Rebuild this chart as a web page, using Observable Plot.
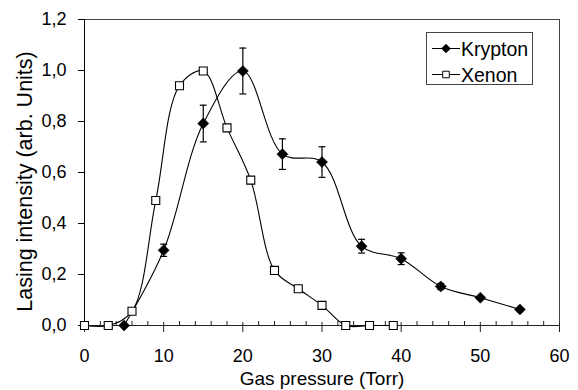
<!DOCTYPE html>
<html><head><meta charset="utf-8">
<script src="https://cdn.jsdelivr.net/npm/d3@7"></script>
<script src="https://cdn.jsdelivr.net/npm/@observablehq/plot@0.6"></script>
<style>
body{margin:0;background:#fff}
#chart{position:relative;width:578px;height:390px}
</style>
</head><body><div id="chart"></div>
<script>
// Data
const kryptonPressure = [5, 10, 15, 20, 25, 30, 35, 40, 45, 50, 55];
const kryptonIntensity = [0.0, 0.295, 0.792, 0.998, 0.672, 0.641, 0.311, 0.262, 0.153, 0.109, 0.063];
const kryptonError = [0, 0.024, 0.072, 0.09, 0.06, 0.06, 0.027, 0.023, 0.012, 0, 0];
const xenonPressure = [0, 3, 6, 9, 12, 15, 18, 21, 24, 27, 30, 33, 36, 39];
const xenonIntensity = [0, 0, 0.056, 0.49, 0.94, 0.998, 0.775, 0.57, 0.216, 0.144, 0.079, 0, 0, 0];
const xTicks = [0, 10, 20, 30, 40, 50, 60];
const xMinorTicks = [2, 4, 6, 8, 12, 14, 16, 18, 22, 24, 26, 28, 32, 34, 36, 38, 42, 44, 46, 48, 52, 54, 56, 58];
const yTicks = [0, 0.2, 0.4, 0.6, 0.8, 1.0, 1.2];
const yTickLabels = ["0,0", "0,2", "0,4", "0,6", "0,8", "1,0", "1,2"];
const seriesNames = ["Krypton", "Xenon"];
const xTitle = "Gas pressure (Torr)";
const yTitle = "Lasing intensity (arb. Units)";

const kr = kryptonPressure.map((p, i) => ({p, v: kryptonIntensity[i], e: kryptonError[i]}));
const krErr = kr.filter(d => d.e > 0);
const xe = xenonPressure.map((p, i) => ({p, v: xenonIntensity[i]}));
const capSymbol = {draw(ctx, size) { const r = Math.sqrt(size) / 2; ctx.moveTo(-r, 0); ctx.lineTo(r, 0); }};
const font = "'Liberation Sans', Arial, Helvetica, sans-serif";

const plot = Plot.plot({
  width: 578, height: 390,
  marginLeft: 84, marginRight: 19, marginTop: 19, marginBottom: 65,
  style: {fontFamily: font, fontSize: "18px", color: "#000", background: "#fff", overflow: "visible"},
  x: {domain: [0, 60]},
  y: {domain: [0, 1.2]},
  marks: [
    Plot.frame({anchor: "top", stroke: "#444"}),
    Plot.frame({anchor: "right", stroke: "#444"}),
    Plot.axisX({ticks: xTicks, tickSize: 7, tickPadding: 17, tickFormat: d => String(d), label: null, stroke: "#222"}),
    Plot.tickX(xTicks, {insetTop: 303, stroke: "#222"}),
    Plot.tickX(xMinorTicks, {insetTop: 302, stroke: "#222"}),
    Plot.axisY({ticks: yTicks, tickSize: 6, tickPadding: 12, tickFormat: d => yTickLabels[yTicks.indexOf(d)], label: null, stroke: "#000"}),
    Plot.ruleY([0], {stroke: "#222"}),
    Plot.ruleX([0], {stroke: "#000"}),
    Plot.text([xTitle], {frameAnchor: "bottom", dy: 53, fontSize: 19, lineAnchor: "middle", textAnchor: "middle", fill: "#000"}),
    Plot.text([yTitle], {frameAnchor: "left", dx: -59, dy: 9, rotate: -90, fontSize: 21.5, lineAnchor: "middle", textAnchor: "middle", fill: "#000"}),
    Plot.line(xe, {x: "p", y: "v", curve: "catmull-rom", stroke: "#000", strokeWidth: 1.1}),
    Plot.line(kr, {x: "p", y: "v", curve: "catmull-rom", stroke: "#000", strokeWidth: 1.1}),
    Plot.ruleX(krErr, {x: "p", y1: d => d.v - d.e, y2: d => d.v + d.e, stroke: "#000", strokeWidth: 1.2}),
    Plot.dot(krErr, {x: "p", y: d => d.v + d.e, symbol: capSymbol, r: 3.9, stroke: "#000", strokeWidth: 1.2}),
    Plot.dot(krErr, {x: "p", y: d => d.v - d.e, symbol: capSymbol, r: 3.9, stroke: "#000", strokeWidth: 1.2}),
    Plot.dot(xe, {x: "p", y: "v", symbol: "square2", r: 5.1, fill: "#fff", stroke: "#000", strokeWidth: 1.1}),
    Plot.dot(kr, {x: "p", y: "v", symbol: "diamond2", r: 5, fill: "#000", stroke: "#000", strokeWidth: 0.5})
  ]
});
document.getElementById("chart").appendChild(plot);

// Legend (drawn inside the plot's SVG)
const svg = d3.select(plot);
const lg = svg.append("g").attr("font-family", font).attr("font-size", 19.5).attr("text-anchor", "start");
lg.append("rect").attr("x", 426.5).attr("y", 32.5).attr("width", 106).attr("height", 52)
  .attr("fill", "#fff").attr("stroke", "#444");
const rows = [
  {name: seriesNames[0], y: 48.5, sym: d3.symbolDiamond2, size: 45, fill: "#000"},
  {name: seriesNames[1], y: 74.5, sym: d3.symbolSquare2, size: 55, fill: "#fff"}
];
rows.forEach(r => {
  lg.append("line").attr("x1", 432).attr("x2", 460).attr("y1", r.y).attr("y2", r.y).attr("stroke", "#000");
  lg.append("path").attr("d", d3.symbol(r.sym, r.size)()).attr("transform", `translate(446,${r.y})`)
    .attr("fill", r.fill).attr("stroke", "#000");
  lg.append("text").attr("x", 461).attr("y", r.y).attr("dy", "0.36em").attr("text-anchor", "start").text(r.name);
});
</script>
</body></html>
